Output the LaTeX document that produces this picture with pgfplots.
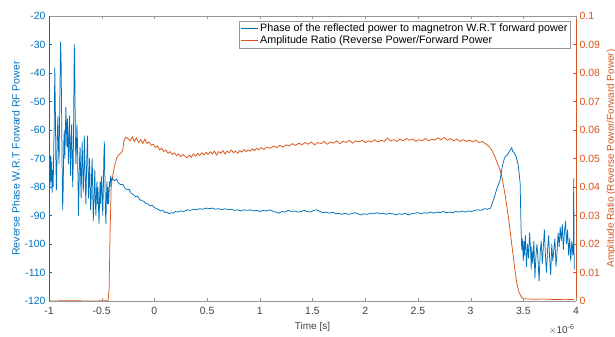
\documentclass[border=0pt]{standalone}
\usepackage{fontspec}
\setmainfont{Liberation Sans}
\usepackage{pgfplots}
\pgfplotsset{compat=1.18}
\definecolor{mblue}{RGB}{0,114,189}
\definecolor{morange}{RGB}{217,83,25}
\definecolor{mgray}{RGB}{64,64,64}
\definecolor{lgray}{RGB}{150,150,150}
\begin{document}
\begin{tikzpicture}
\pgfplotsset{every axis/.append style={font=\fontsize{10.5}{12}\selectfont, /pgf/number format/assume math mode=true}}
\begin{axis}[scale only axis, width=527bp, height=285bp,
  xmin=-1, xmax=4, ymin=0, ymax=0.1,
  axis y line*=right, axis x line=none,
  ytick={0,0.01,0.02,0.03,0.04,0.05,0.06,0.07,0.08,0.09,0.1},
  yticklabel style={morange, /pgf/number format/fixed, /pgf/number format/precision=2},
  tick align=inside, major tick length=3bp,
  y axis line style={morange}, ytick style={morange},
  ylabel={Amplitude Ratio (Reverse Power/Forward Power)}, ylabel style={morange, font=\fontsize{10}{11}\selectfont},
  scaled y ticks=false]
\addplot[color=morange, line width=0.75bp] coordinates {
(-1.00,0.0000)(-0.80,0.0001)(-0.60,0.0000)(-0.44,0.0001)(-0.43,0.0040)(-0.42,0.0250)(-0.41,0.0400)(-0.40,0.0430)(-0.38,0.0470)(-0.36,0.0500)
(-0.34,0.0512)(-0.32,0.0518)(-0.30,0.0530)(-0.29,0.0560)(-0.27,0.0575)(-0.25,0.0570)(-0.23,0.0562)(-0.21,0.0576)(-0.19,0.0560)(-0.17,0.0572)
(-0.15,0.0556)(-0.13,0.0566)(-0.11,0.0553)(-0.09,0.0568)(-0.07,0.0552)(-0.05,0.0558)(-0.03,0.0546)(-0.01,0.0550)(0.01,0.0538)(0.03,0.0544)
(0.05,0.0530)(0.07,0.0536)(0.09,0.0524)(0.11,0.0530)(0.13,0.0518)(0.15,0.0524)(0.17,0.0514)(0.19,0.0520)(0.21,0.0510)(0.23,0.0516)
(0.25,0.0506)(0.27,0.0514)(0.29,0.0508)(0.31,0.0502)(0.33,0.0512)(0.35,0.0504)(0.37,0.0516)(0.39,0.0508)(0.41,0.0518)(0.43,0.0510)
(0.45,0.0520)(0.47,0.0512)(0.49,0.0522)(0.51,0.0514)(0.53,0.0524)(0.55,0.0516)(0.57,0.0526)(0.59,0.0512)(0.61,0.0524)(0.63,0.0518)
(0.65,0.0528)(0.67,0.0516)(0.69,0.0526)(0.71,0.0520)(0.73,0.0530)(0.75,0.0520)(0.77,0.0526)(0.79,0.0518)(0.81,0.0528)(0.83,0.0522)
(0.85,0.0532)(0.87,0.0524)(0.89,0.0530)(0.91,0.0526)(0.93,0.0534)(0.95,0.0528)(0.97,0.0536)(0.99,0.0530)(1.01,0.0538)(1.04,0.0532)
(1.07,0.0540)(1.10,0.0536)(1.13,0.0544)(1.16,0.0538)(1.19,0.0546)(1.22,0.0540)(1.25,0.0548)(1.28,0.0544)(1.31,0.0552)(1.34,0.0546)
(1.37,0.0554)(1.40,0.0548)(1.43,0.0556)(1.46,0.0550)(1.49,0.0558)(1.52,0.0548)(1.55,0.0556)(1.58,0.0552)(1.61,0.0560)(1.64,0.0550)
(1.67,0.0558)(1.70,0.0554)(1.73,0.0562)(1.76,0.0552)(1.79,0.0560)(1.82,0.0556)(1.85,0.0564)(1.88,0.0554)(1.91,0.0562)(1.94,0.0558)
(1.97,0.0564)(2.00,0.0556)(2.03,0.0562)(2.06,0.0558)(2.09,0.0566)(2.12,0.0558)(2.15,0.0564)(2.18,0.0560)(2.21,0.0572)(2.24,0.0562)
(2.27,0.0566)(2.30,0.0560)(2.33,0.0568)(2.36,0.0562)(2.39,0.0570)(2.42,0.0564)(2.45,0.0568)(2.48,0.0560)(2.51,0.0566)(2.54,0.0562)
(2.57,0.0570)(2.60,0.0562)(2.63,0.0568)(2.66,0.0564)(2.69,0.0572)(2.72,0.0566)(2.75,0.0574)(2.78,0.0564)(2.81,0.0570)(2.84,0.0562)
(2.87,0.0568)(2.90,0.0560)(2.93,0.0566)(2.96,0.0560)(2.99,0.0564)(3.02,0.0558)(3.05,0.0564)(3.08,0.0556)(3.11,0.0560)(3.14,0.0552)
(3.17,0.0544)(3.20,0.0530)(3.23,0.0506)(3.26,0.0478)(3.28,0.0460)(3.30,0.0430)(3.33,0.0366)(3.36,0.0290)(3.38,0.0230)(3.40,0.0170)
(3.42,0.0110)(3.44,0.0060)(3.46,0.0030)(3.48,0.0015)(3.50,0.0008)(3.55,0.0007)(3.60,0.0006)(3.70,0.0007)(3.80,0.0005)(3.90,0.0006)(3.98,0.0005)
};
\end{axis}
\begin{axis}[name=ax1, scale only axis, width=527bp, height=285bp,
  xmin=-1, xmax=4, ymin=-120, ymax=-20,
  axis x line*=box, axis y line*=left,
  xtick={-1,-0.5,0,0.5,1,1.5,2,2.5,3,3.5,4},
  ytick={-120,-110,-100,-90,-80,-70,-60,-50,-40,-30,-20},
  tick align=inside, major tick length=3bp,
  x axis line style={lgray}, xtick style={lgray}, xticklabel style={mgray, yshift=-2.5bp},
  y axis line style={mblue}, ytick style={mblue}, yticklabel style={mblue},
  xlabel={Time [s]}, xlabel style={mgray, yshift=-1bp, font=\fontsize{10}{11}\selectfont},
  ylabel={Reverse Phase W.R.T Forward RF Power}, ylabel style={mblue, yshift=-2bp},
  scaled x ticks=false, scaled y ticks=false,
  legend style={at={(rel axis cs:0.989,0.982)}, anchor=north east, draw=lgray, fill=white, font=\fontsize{10.8}{12}\selectfont, inner sep=0.5pt, row sep=-1pt},
  legend cell align=left]
\addplot[mblue, line width=0.75bp, forget plot] coordinates {
(-1.000,-84)(-0.995,-72)(-0.990,-80)(-0.985,-69)(-0.980,-78)(-0.975,-71)(-0.970,-82)(-0.965,-74)(-0.960,-80)(-0.955,-66)
(-0.950,-58)(-0.945,-38)(-0.940,-52)(-0.935,-70)(-0.930,-81)(-0.925,-72)(-0.920,-60)(-0.915,-55)(-0.910,-66)(-0.905,-72)
(-0.900,-58)(-0.895,-42)(-0.890,-29)(-0.885,-36)(-0.880,-55)(-0.875,-75)(-0.870,-88)(-0.865,-80)(-0.860,-65)(-0.855,-60)
(-0.850,-70)(-0.845,-62)(-0.840,-52)(-0.835,-58)(-0.830,-66)(-0.825,-56)(-0.820,-64)(-0.815,-72)(-0.810,-62)(-0.805,-55)
(-0.800,-67)(-0.795,-76)(-0.790,-64)(-0.785,-58)(-0.780,-68)(-0.775,-80)(-0.770,-72)(-0.765,-52)(-0.760,-30)(-0.755,-40)
(-0.750,-62)(-0.745,-72)(-0.740,-66)(-0.735,-58)(-0.730,-64)(-0.725,-78)(-0.720,-90)(-0.715,-80)(-0.710,-70)(-0.705,-66)
(-0.700,-76)(-0.695,-84)(-0.690,-72)(-0.685,-64)(-0.680,-74)(-0.675,-82)(-0.670,-76)(-0.665,-62)(-0.660,-70)(-0.655,-80)
(-0.650,-86)(-0.645,-76)(-0.640,-68)(-0.635,-62)(-0.630,-72)(-0.625,-84)(-0.620,-78)(-0.615,-70)(-0.610,-80)(-0.605,-88)
(-0.600,-84)(-0.595,-74)(-0.590,-70)(-0.585,-82)(-0.580,-92)(-0.575,-86)(-0.570,-80)(-0.565,-74)(-0.560,-86)(-0.555,-90)
(-0.550,-82)(-0.545,-78)(-0.540,-86)(-0.535,-80)(-0.530,-88)(-0.525,-93)(-0.520,-84)(-0.515,-78)(-0.510,-86)(-0.505,-80)
(-0.500,-76)(-0.495,-84)(-0.490,-90)(-0.485,-82)(-0.480,-70)(-0.475,-64)(-0.470,-76)(-0.465,-88)(-0.460,-93)(-0.455,-84)
(-0.450,-78)(-0.445,-86)(-0.440,-80)(-0.435,-86)(-0.430,-82)(-0.425,-78)(-0.420,-80)(-0.415,-76)(-0.410,-78)
(-0.40,-77.0)(-0.38,-77.8)(-0.36,-77.2)(-0.34,-78.6)(-0.32,-79.2)(-0.30,-79.0)(-0.28,-80.4)(-0.26,-81.0)(-0.24,-80.8)(-0.22,-82.2)
(-0.20,-82.6)(-0.18,-83.4)(-0.16,-83.2)(-0.14,-84.4)(-0.12,-84.8)(-0.10,-85.0)(-0.08,-85.8)(-0.06,-86.0)(-0.04,-86.6)(-0.02,-86.4)
(0.00,-87.2)(0.02,-87.6)(0.04,-88.0)(0.06,-88.4)(0.08,-88.2)(0.10,-89.0)(0.12,-88.8)(0.14,-89.4)(0.16,-89.0)(0.18,-89.2)
(0.20,-88.6)(0.22,-88.8)(0.25,-88.4)(0.28,-88.6)(0.31,-88.0)(0.34,-88.2)(0.37,-87.8)(0.40,-88.0)(0.43,-87.6)(0.46,-87.8)
(0.49,-87.4)(0.52,-87.6)(0.55,-87.4)(0.58,-87.8)(0.61,-87.6)(0.64,-88.0)(0.67,-87.6)(0.70,-88.0)(0.73,-87.8)(0.76,-88.2)
(0.79,-88.0)(0.82,-88.4)(0.85,-88.0)(0.88,-88.2)(0.91,-88.0)(0.94,-88.4)(0.97,-88.2)(1.00,-88.6)(1.03,-88.2)(1.06,-88.4)
(1.09,-88.0)(1.12,-88.4)(1.15,-88.8)(1.18,-89.2)(1.21,-88.6)(1.24,-88.8)(1.27,-88.2)(1.30,-88.6)(1.33,-88.4)(1.36,-88.8)
(1.39,-88.6)(1.42,-88.2)(1.45,-88.6)(1.48,-88.8)(1.51,-88.2)(1.54,-88.0)(1.57,-88.6)(1.60,-89.0)(1.63,-88.8)(1.66,-89.2)
(1.69,-88.8)(1.72,-89.4)(1.75,-89.2)(1.78,-89.6)(1.81,-89.2)(1.84,-89.6)(1.87,-89.4)(1.90,-89.0)(1.93,-89.4)(1.96,-89.8)
(1.99,-89.4)(2.02,-89.6)(2.05,-89.2)(2.08,-89.4)(2.11,-89.0)(2.14,-89.4)(2.17,-89.2)(2.20,-89.6)(2.23,-89.2)(2.26,-89.4)
(2.29,-89.8)(2.32,-89.4)(2.35,-89.6)(2.38,-89.2)(2.41,-89.8)(2.44,-89.4)(2.47,-89.2)(2.50,-89.0)(2.53,-89.4)(2.56,-89.0)
(2.59,-89.2)(2.62,-88.8)(2.65,-89.2)(2.68,-88.8)(2.71,-89.0)(2.74,-88.6)(2.77,-89.0)(2.80,-88.8)(2.83,-89.0)(2.86,-88.6)
(2.89,-88.8)(2.92,-88.4)(2.95,-88.8)(2.98,-88.4)(3.01,-88.6)(3.04,-88.2)(3.07,-88.0)(3.10,-88.2)(3.13,-87.6)(3.16,-87.8)
(3.19,-87.4)(3.21,-85.2)(3.23,-83.0)(3.25,-80.5)(3.27,-78.5)(3.28,-77.5)(3.30,-73.0)(3.32,-70.0)(3.33,-69.4)(3.35,-68.6)
(3.37,-67.4)(3.38,-66.8)(3.39,-66.2)(3.40,-67.6)(3.41,-67.8)(3.42,-68.4)(3.43,-69.2)(3.44,-70.5)(3.45,-72.0)(3.46,-75.0)
(3.47,-78.7)(3.475,-88)(3.48,-96)(3.485,-102)
(3.49,-98)(3.50,-106)(3.505,-99)(3.51,-104)(3.52,-97)(3.53,-108)(3.54,-100)(3.55,-105)(3.56,-96)(3.57,-103)
(3.575,-109)(3.58,-101)(3.59,-107)(3.60,-99)(3.61,-112)(3.62,-104)(3.63,-100)(3.64,-106)(3.65,-113)(3.66,-103)
(3.67,-99)(3.68,-107)(3.69,-101)(3.70,-95)(3.71,-104)(3.72,-110)(3.73,-102)(3.74,-97)(3.75,-105)(3.76,-111)
(3.77,-100)(3.78,-106)(3.79,-102)(3.80,-98)(3.81,-108)(3.82,-103)(3.83,-96)(3.84,-101)(3.85,-94)(3.86,-99)
(3.87,-93)(3.88,-102)(3.89,-96)(3.90,-92)(3.91,-100)(3.92,-95)(3.93,-104)(3.94,-98)(3.95,-106)(3.96,-99)
(3.97,-104)(3.975,-100)(3.978,-77)(3.983,-109)
};
\addlegendimage{legend image code/.code={\draw[draw=mblue, line width=1.2bp] (0bp,0bp) -- (17bp,0bp);}}
\addlegendentry{Phase of the reflected power to magnetron W.R.T forward power}
\addlegendimage{legend image code/.code={\draw[draw=morange, line width=1.2bp] (0bp,0bp) -- (17bp,0bp);}}
\addlegendentry{Amplitude Ratio (Reverse Power/Forward Power}
\end{axis}
\node[anchor=north east, mgray, font=\fontsize{10}{11}\selectfont, yshift=-20bp, xshift=2bp] at (ax1.south east) {$\times$10\textsuperscript{-6}};
\pgfresetboundingbox
\path ([xshift=-49bp,yshift=-35bp]ax1.south west) rectangle ([xshift=39bp,yshift=16bp]ax1.north east);
\end{tikzpicture}
\end{document}
